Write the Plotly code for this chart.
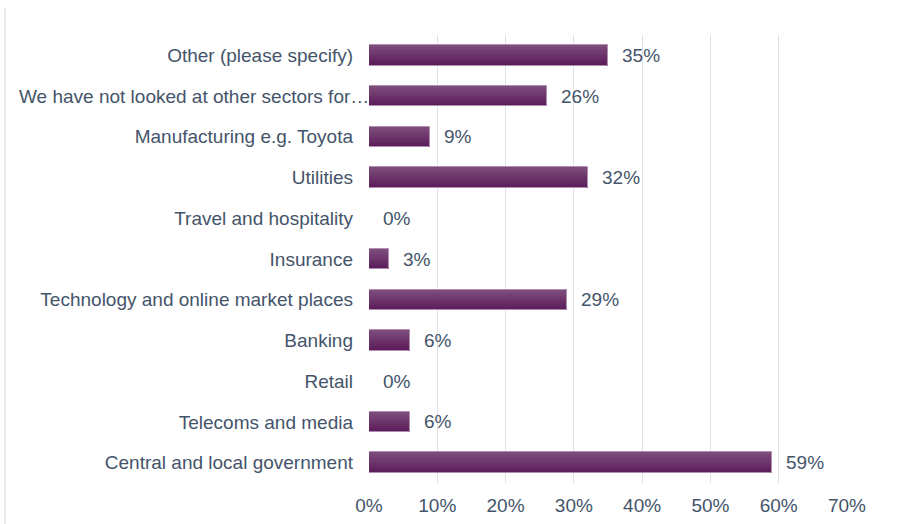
import plotly.graph_objects as go

# Sectors, listed bottom to top as they appear on the y axis
sectors = [
    "Central and local government",
    "Telecoms and media",
    "Retail",
    "Banking",
    "Technology and online market places",
    "Insurance",
    "Travel and hospitality",
    "Utilities",
    "Manufacturing e.g. Toyota",
    "We have not looked at other sectors for…",
    "Other (please specify)",
]
share_pct = [59, 6, 0, 6, 29, 3, 0, 32, 9, 26, 35]
x_ticks = [0, 10, 20, 30, 40, 50, 60, 70]
x_tick_labels = ["0%", "10%", "20%", "30%", "40%", "50%", "60%", "70%"]

values = [v / 100 for v in share_pct]

TEXT = "#44546a"
FONT = "Liberation Sans, Arial, sans-serif"
FS = 19
BAR_W = 0.5

# The truncated label runs right up to the axis, so it is drawn as an annotation
LONG = "We have not looked at other sectors for…"
tick_text = ["" if s == LONG else s for s in sectors]

# Vertical colour ramp for the bars: lighter plum at the top edge, deeper at the bottom
top_rgb = (0x7c, 0x4c, 0x7b)
bot_rgb = (0x5c, 0x1c, 0x5b)
n_bands = 10

fig = go.Figure()
band_w = BAR_W / n_bands
for i in range(n_bands):
    t = i / (n_bands - 1)
    r, g, b = (round(top_rgb[k] + (bot_rgb[k] - top_rgb[k]) * t) for k in range(3))
    fig.add_trace(go.Bar(
        y=sectors, x=values, orientation="h",
        width=band_w + 0.002,
        offset=BAR_W / 2 - (i + 1) * band_w,
        marker=dict(color=f"rgb({r},{g},{b})", line=dict(width=0)),
        hoverinfo="skip", showlegend=False,
    ))

# Thin light outline around each non-empty bar
fig.add_trace(go.Bar(
    y=sectors, x=values, orientation="h",
    width=BAR_W, offset=-BAR_W / 2,
    marker=dict(color="rgba(0,0,0,0)",
                line=dict(color="#b08fb0", width=[1 if v > 0 else 0 for v in values])),
    showlegend=False,
    hovertemplate="%{y}: %{x:.0%}<extra></extra>",
))

annotations = [
    dict(x=v, y=s, xref="x", yref="y", text=f"{p}%", showarrow=False,
         xanchor="left", yanchor="middle", xshift=12,
         font=dict(size=FS, color=TEXT, family=FONT))
    for s, v, p in zip(sectors, values, share_pct)
]
annotations.append(dict(
    x=0, y=LONG, xref="paper", yref="y", text=LONG, showarrow=False,
    xanchor="right", yanchor="middle", xshift=2,
    font=dict(size=FS, color=TEXT, family=FONT)))

fig.update_layout(
    width=911, height=524,
    margin=dict(l=369, r=64, t=35, b=41),
    paper_bgcolor="white", plot_bgcolor="white",
    barmode="overlay", bargap=0,
    font=dict(family=FONT, size=FS, color=TEXT),
    annotations=annotations,
    shapes=[dict(type="line", xref="paper", yref="paper",
                 x0=-0.7615, x1=-0.7615, y0=-0.1, y1=1.06,
                 line=dict(color="#d9d9d9", width=1))],
    xaxis=dict(
        range=[0, 0.7], tickvals=[t / 100 for t in x_ticks], ticktext=x_tick_labels,
        showgrid=True, gridcolor="#dde1e8", gridwidth=1,
        zeroline=False, showline=False, ticks="",
        ticklabelstandoff=9, automargin=False,
        tickfont=dict(size=FS, color=TEXT), fixedrange=True,
    ),
    yaxis=dict(
        categoryorder="array", categoryarray=sectors,
        tickvals=sectors, ticktext=tick_text,
        range=[-0.5, len(sectors) - 0.5],
        showgrid=False, zeroline=False, showline=False, ticks="",
        ticklabelstandoff=15, automargin=False,
        tickfont=dict(size=FS, color=TEXT), fixedrange=True,
    ),
)

fig.write_html("out.html")
